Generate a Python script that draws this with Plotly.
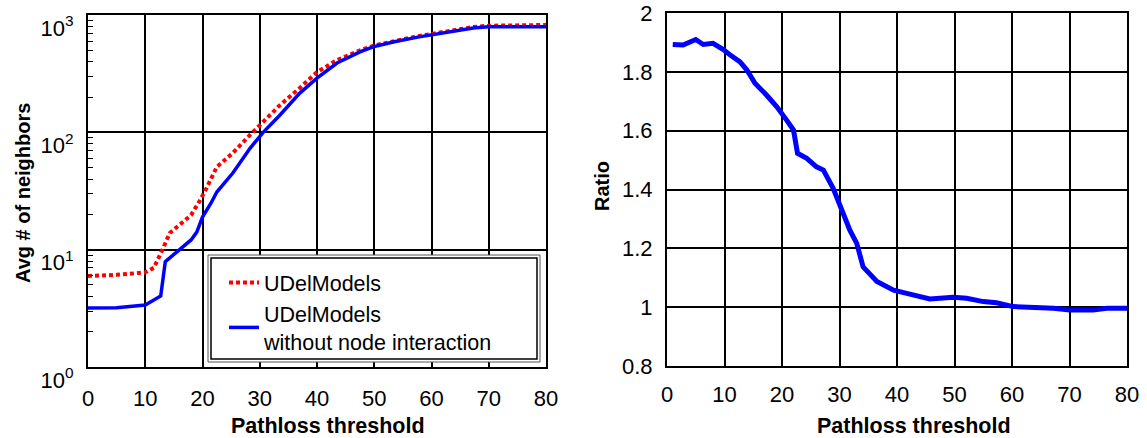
import plotly.graph_objects as go

# ---- data ----
x_red = [0, 5, 10, 11.5, 13, 14.3, 16, 18, 19.5, 20.5, 22.5, 25.3, 28.3, 30.6, 33.5, 37, 40, 43.5, 47.5, 50, 53.3, 57.6, 62.7, 67.3, 70, 75, 80]
y_red = [5.97, 6.1, 6.4, 7.0, 10, 13.9, 16.3, 19.7, 26, 32, 50.7, 66.7, 95, 122, 170, 239, 326, 413, 500, 550, 600, 660, 725, 790, 810, 815, 822]

x_blue = [0, 5, 10, 12.7, 13.5, 14, 16, 18, 19, 20, 21.5, 22.5, 25.3, 28.3, 30.6, 33.5, 37, 40, 43.5, 47.5, 49.8, 53.3, 57.6, 62.7, 67.3, 70, 75, 80]
y_blue = [3.18, 3.2, 3.38, 4.03, 7.9, 8.3, 10, 12.1, 14.1, 19, 25, 31, 45, 73, 100, 140, 216, 290, 390, 484, 535, 589, 648, 716, 776, 794, 794, 794]

x_ratio = [1, 2.8, 5, 6.3, 8, 9.8, 11, 12.7, 13.9, 15.3, 17.3, 19.1, 20.8, 22, 22.7, 24.3, 26, 27.2, 28.9,
           30.1, 31.8, 33, 34.1, 36.5, 39.4, 41.7, 45.7, 49.8, 52.1, 55, 57.3, 60.2, 63.7, 67.2, 70.1, 74.1, 76.5, 80]
y_ratio = [1.893, 1.891, 1.91, 1.893, 1.897, 1.876, 1.857, 1.834, 1.806, 1.761, 1.721, 1.681, 1.636, 1.602, 1.523,
           1.506, 1.477, 1.466, 1.404, 1.341, 1.262, 1.217, 1.137, 1.087, 1.058, 1.047, 1.028, 1.034, 1.030, 1.019,
           1.015, 1.002, 1.0, 0.996, 0.99, 0.99, 0.996, 0.996]

x_ticks = [0, 10, 20, 30, 40, 50, 60, 70, 80]
log_tickvals = [1, 10, 100, 1000]
log_ticktext = ["10<sup>0</sup>", "10<sup>1</sup>", "10<sup>2</sup>", "10<sup>3</sup>"]
ratio_tickvals = [0.8, 1, 1.2, 1.4, 1.6, 1.8, 2]
ratio_ticktext = ["0.8", "1", "1.2", "1.4", "1.6", "1.8", "2"]

W, H = 1147, 438
FONT = "Liberation Sans, Arial, sans-serif"

fig = go.Figure()
fig.add_trace(go.Scatter(x=x_red, y=y_red, mode="lines", name="UDelModels",
                         line=dict(color="#ff0000", width=4, dash="4px,3px"), xaxis="x", yaxis="y"))
fig.add_trace(go.Scatter(x=x_blue, y=y_blue, mode="lines", name="UDelModels<br>without node interaction",
                         line=dict(color="#0000ff", width=3.5), xaxis="x", yaxis="y"))
fig.add_trace(go.Scatter(x=x_ratio, y=y_ratio, mode="lines", showlegend=False,
                         line=dict(color="#0000ff", width=5), xaxis="x2", yaxis="y2"))

def px(v):
    return v / W

def py(v):
    return 1 - v / H

axis_common = dict(showline=True, linecolor="black", linewidth=2, mirror=True, automargin=False,
                   showgrid=True, gridcolor="black", gridwidth=2, zeroline=False,
                   tickfont=dict(family=FONT, size=22, color="black"))

fig.update_layout(
    width=W, height=H, margin=dict(l=0, r=0, t=0, b=0, autoexpand=False),
    paper_bgcolor="white", plot_bgcolor="white",
    font=dict(family=FONT, color="black"),
    xaxis=dict(domain=[px(88), px(546)], range=[0, 80], tickvals=x_ticks, ticks="inside", ticklen=5,
               tickcolor="black", tickwidth=2, ticklabelstandoff=11, anchor="y", **axis_common),
    yaxis=dict(domain=[py(367), py(15)], type="log", range=[0, 3], tickvals=log_tickvals, ticktext=log_ticktext,
               ticks="inside", ticklen=0, ticklabelshift=13, ticklabelstandoff=8, anchor="x",
               minor=dict(ticks="inside", ticklen=5, tickcolor="black", tickwidth=1, dtick="D1", showgrid=False),
               **axis_common),
    xaxis2=dict(domain=[px(667), px(1127)], range=[0, 80], tickvals=x_ticks, ticks="inside", ticklen=5,
                tickcolor="black", tickwidth=2, ticklabelstandoff=8, anchor="y2", **axis_common),
    yaxis2=dict(domain=[py(366), py(13)], range=[0.8, 2], tickvals=ratio_tickvals, ticktext=ratio_ticktext,
                ticks="inside", ticklen=0, ticklabelstandoff=8, anchor="x2", **axis_common),
    legend=dict(x=px(224), y=py(262), xanchor="left", yanchor="top",
                bgcolor="rgba(0,0,0,0)", borderwidth=0,
                font=dict(family=FONT, size=21.5, color="black"), tracegroupgap=3),
    showlegend=True,
)

# double-lined legend frame
fig.add_shape(type="rect", xref="paper", yref="paper", layer="above",
              x0=px(208), x1=px(540), y0=py(362), y1=py(255),
              fillcolor="white", line=dict(color="#555555", width=1))
fig.add_shape(type="rect", xref="paper", yref="paper", layer="above",
              x0=px(211), x1=px(537), y0=py(359), y1=py(258),
              fillcolor="white", line=dict(color="black", width=1.5))

annots = [
    dict(text="<b>Pathloss threshold</b>", x=px(328), y=py(426), size=21.5),
    dict(text="<b>Pathloss threshold</b>", x=px(914), y=py(426), size=21.5),
    dict(text="<b>Avg # of neighbors</b>", x=px(23), y=py(193), textangle=-90, size=20),
    dict(text="<b>Ratio</b>", x=px(602), y=py(186), textangle=-90, size=20),
]
for a in annots:
    size = a.pop("size")
    fig.add_annotation(xref="paper", yref="paper", showarrow=False, xanchor="center", yanchor="middle",
                       font=dict(family=FONT, size=size, color="black"), **a)

fig.write_html("out.html")
